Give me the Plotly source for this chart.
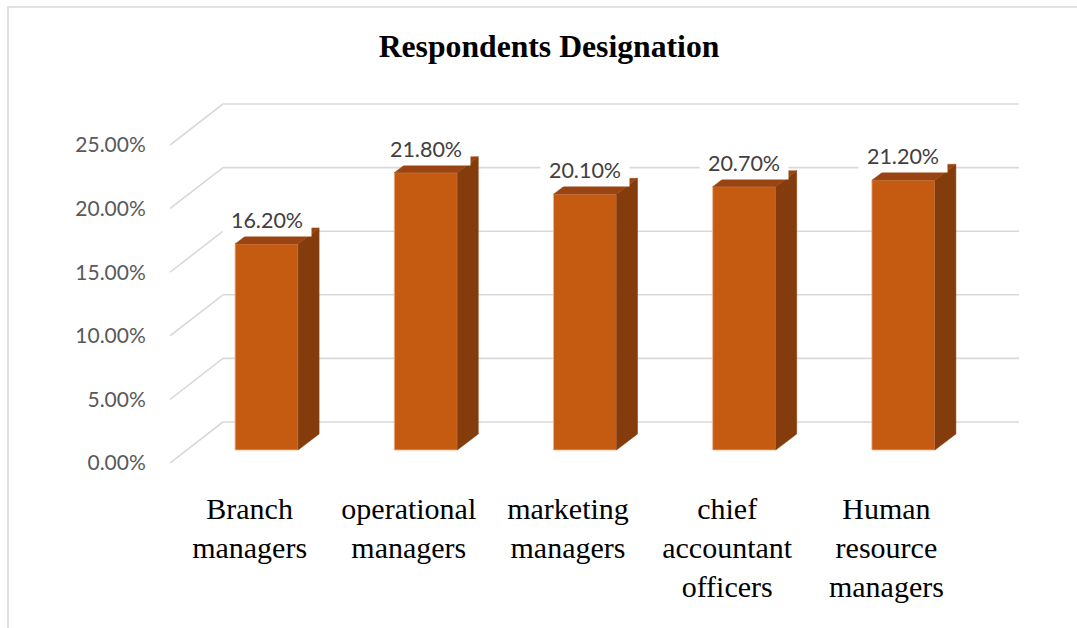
import plotly.graph_objects as go

# ---------------- data ----------------
categories = ["Branch<br>managers", "operational<br>managers", "marketing<br>managers",
              "chief<br>accountant<br>officers", "Human<br>resource<br>managers"]
values = [16.2, 21.8, 20.1, 20.7, 21.2]
tick_values = [0, 5, 10, 15, 20, 25]
tick_labels = [f"{v:.2f}%" for v in tick_values]
label_texts = [f"{v:.2f}%" for v in values]
title_text = "Respondents Designation"

# ---------------- layout constants (pixels) ----------------
W, H = 1077, 628
ML, MR, MT, MB = 170, 57, 95, 165
PX_X = 159.2    # pixels per category
PX_Y = 12.72    # pixels per percent
plot_w = W - ML - MR
plot_h = H - MT - MB
x_range = [-0.5, -0.5 + plot_w / PX_X]
y_range = [0, plot_h / PX_Y]


def ux(px):
    return px / PX_X


def uy(px):
    return -px / PX_Y


BACK = (ux(53), uy(-41))         # back wall offset
FRONT_BAR = (ux(17), uy(-13))    # bar front face offset from front plane
BAR_DEPTH = (ux(21), uy(-16))    # bar depth
HALF_W = ux(63) / 2

GRID_C = "#D9D9D9"
FRONT_C = "#C55A11"
SIDE_C = "#843C0C"
TOP_C = "#9A4511"

n = len(values)
fig = go.Figure()

# perspective gridlines (left wall diagonals + back wall lines), drawn below traces
for v in tick_values:
    fig.add_shape(type="line", xref="x", yref="y", layer="below",
                  x0=-0.5, y0=v, x1=-0.5 + BACK[0], y1=v + BACK[1],
                  line=dict(color=GRID_C, width=1.6))
    fig.add_shape(type="line", xref="x", yref="y", layer="below",
                  x0=-0.5 + BACK[0], y0=v + BACK[1],
                  x1=(n - 0.5) + BACK[0], y1=v + BACK[1],
                  line=dict(color=GRID_C, width=1.6))

# bar front faces
xs = [i + FRONT_BAR[0] for i in range(n)]
fig.add_trace(go.Bar(x=xs, y=values, base=FRONT_BAR[1], width=2 * HALF_W,
                     marker=dict(color=FRONT_C,
                                 line=dict(color="rgba(244,177,131,0.8)", width=1)),
                     hoverinfo="skip"))

# bar side and top faces
for xc, v in zip(xs, values):
    xl, xr = xc - HALF_W, xc + HALF_W
    y0, y1 = FRONT_BAR[1], FRONT_BAR[1] + v
    dx, dy = BAR_DEPTH
    fig.add_trace(go.Scatter(
        x=[xr, xr + dx, xr + dx, xr, xr], y=[y0, y0 + dy, y1 + dy, y1, y0],
        mode="lines", fill="toself", fillcolor=SIDE_C,
        line=dict(color=SIDE_C, width=0.5), hoverinfo="skip"))
    fig.add_trace(go.Scatter(
        x=[xl, xr, xr + dx, xl + dx, xl], y=[y1, y1, y1 + dy, y1 + dy, y1],
        mode="lines", fill="toself", fillcolor=TOP_C,
        line=dict(color=TOP_C, width=0.5), hoverinfo="skip"))

# data labels
for xc, v, t in zip(xs, values, label_texts):
    fig.add_annotation(x=xc, y=v + FRONT_BAR[1], text=t, showarrow=False,
                       xanchor="center", yanchor="bottom", yshift=7,
                       width=88, height=33, borderpad=0, bgcolor="white",
                       font=dict(family="Lato", size=21.5, color="#404040"))

# chart border
fig.add_shape(type="rect", xref="paper", yref="paper",
              x0=(8 - ML) / plot_w, x1=(W + 20 - ML) / plot_w,
              y0=(H - MB - (H + 20)) / plot_h, y1=(H - MB - 7) / plot_h,
              line=dict(color=GRID_C, width=1.6), fillcolor="rgba(0,0,0,0)",
              layer="below")

fig.update_layout(
    width=W, height=H, autosize=False,
    margin=dict(l=ML, r=MR, t=MT, b=MB, pad=0),
    paper_bgcolor="white", plot_bgcolor="white",
    showlegend=False,
    title=dict(text=f"<b>{title_text}</b>", x=549 / W, xanchor="center",
               xref="container", yref="container", y=1 - 46 / H, yanchor="middle",
               font=dict(family="Liberation Serif", size=31.7, color="black")),
    xaxis=dict(range=x_range, tickvals=list(range(n)), ticktext=categories,
               showgrid=False, zeroline=False, showline=False,
               ticks="outside", ticklen=19, tickcolor="rgba(0,0,0,0)",
               tickfont=dict(family="Liberation Serif", size=30, color="black"),
               fixedrange=True),
    yaxis=dict(range=y_range, tickvals=tick_values, ticktext=tick_labels,
               showgrid=False, zeroline=False, showline=False,
               ticks="outside", ticklen=19, tickcolor="rgba(0,0,0,0)",
               tickfont=dict(family="Lato", size=21, color="#595959"),
               fixedrange=True),
)

fig.write_html("out.html", include_plotlyjs=True,
               config=dict(displayModeBar=False, staticPlot=True),
               post_script="document.body.style.margin='0';document.body.style.overflow='hidden';")
